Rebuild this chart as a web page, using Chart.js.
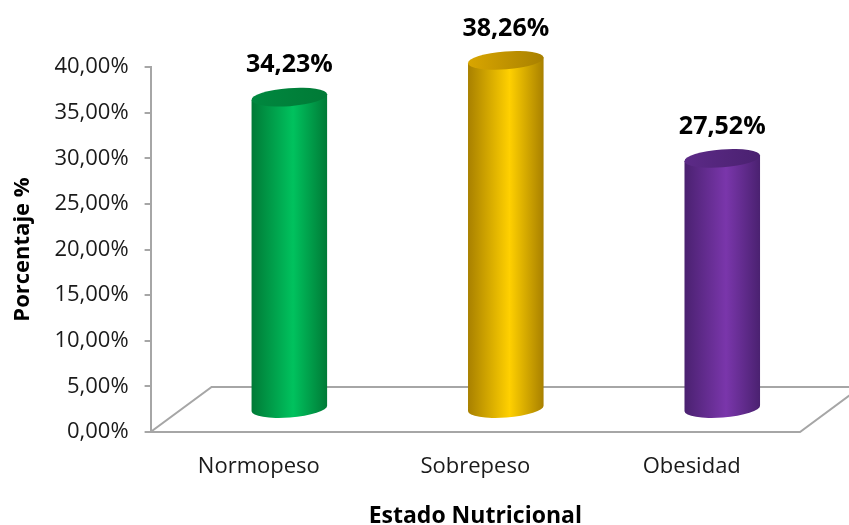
<!DOCTYPE html>
<html>
<head>
<meta charset="utf-8">
<script src="https://cdn.jsdelivr.net/npm/chart.js@4.4.1/dist/chart.umd.min.js"></script>
<style>
  body { margin: 0; background: #fff; }
  #wrap { width: 849px; height: 525px; }
</style>
</head>
<body>
<div id="wrap"><canvas id="nutri-graph"></canvas></div>
<script>
const categories = ["Normopeso", "Sobrepeso", "Obesidad"];
const percentages = [34.23, 38.26, 27.52];
const yTicks = [0, 5, 10, 15, 20, 25, 30, 35, 40];

// edge / highlight / lid colours for each cylinder
const shades = [
  { edge: "#007a36", light: "#00c25e", lid: "#00883f" },
  { edge: "#a88000", light: "#ffd000", lid: "#d9a600" },
  { edge: "#4a2170", light: "#7a36ab", lid: "#5c2a87" },
];

const FONT = "'Open Sans', sans-serif";
const AXIS_GRAY = "#a6a6a6";

// floor depth of the 3D box
const depthX = 61;
const depthY = -45;

const fmtPct = (v) => v.toFixed(2).replace(".", ",") + "%";

const cylinderPlugin = {
  id: "cylinders",
  beforeDatasetsDraw(chart) {
    const { ctx, chartArea } = chart;
    const { left, right, bottom } = chartArea;
    ctx.save();
    ctx.strokeStyle = AXIS_GRAY;
    ctx.lineWidth = 2;
    ctx.beginPath();
    ctx.moveTo(left, bottom);
    ctx.lineTo(right, bottom);
    ctx.lineTo(right + depthX, bottom + depthY);
    ctx.lineTo(left + depthX, bottom + depthY);
    ctx.closePath();
    ctx.stroke();
    ctx.restore();
  },
  afterDatasetsDraw(chart) {
    const { ctx } = chart;
    const meta = chart.getDatasetMeta(0);
    const rot = -0.075;
    const ry = 9;

    meta.data.forEach((bar, i) => {
      const c = shades[i];
      const cx = bar.x + depthX / 2;
      const topY = bar.y + depthY / 2;
      const baseY = bar.base + depthY / 2;
      const rx = bar.width / 2;
      const ex = rx * Math.cos(rot);
      const ey = rx * Math.sin(rot);

      const grad = ctx.createLinearGradient(cx - rx, 0, cx + rx, 0);
      grad.addColorStop(0, c.edge);
      grad.addColorStop(0.55, c.light);
      grad.addColorStop(1, c.edge);

      ctx.save();
      // body + rounded bottom
      ctx.beginPath();
      ctx.moveTo(cx - ex, topY - ey);
      ctx.lineTo(cx - ex, baseY - ey);
      ctx.ellipse(cx, baseY, rx, ry, rot, Math.PI, 0, true);
      ctx.lineTo(cx + ex, topY + ey);
      ctx.closePath();
      ctx.fillStyle = grad;
      ctx.fill();

      // lid
      const lidGrad = ctx.createLinearGradient(cx - rx, 0, cx + rx, 0);
      lidGrad.addColorStop(0, c.lid);
      lidGrad.addColorStop(1, c.edge);
      ctx.beginPath();
      ctx.ellipse(cx, topY, rx, ry, rot, 0, Math.PI * 2);
      ctx.fillStyle = lidGrad;
      ctx.fill();

      // value label
      ctx.fillStyle = "#000";
      ctx.font = "bold 25px " + FONT;
      ctx.textAlign = "center";
      ctx.textBaseline = "middle";
      ctx.fillText(fmtPct(percentages[i]), cx, topY - 32);
      ctx.restore();
    });
  },
};

const renderChart = () => {
  const canvas = document.querySelector("#nutri-graph");

  const data = {
    labels: categories,
    datasets: [
      {
        data: percentages,
        backgroundColor: "rgba(0,0,0,0)",
        borderWidth: 0,
        barPercentage: 0.35,
        categoryPercentage: 1,
      },
    ],
  };

  const options = {
    responsive: true,
    maintainAspectRatio: false,
    animation: false,
    events: [],
    layout: { padding: { top: 67, right: 49, left: 10, bottom: 0 } },
    plugins: {
      legend: { display: false },
      tooltip: { enabled: false },
    },
    scales: {
      x: {
        grid: { display: false, drawTicks: false },
        border: { display: false },
        ticks: { font: { family: FONT, size: 22 }, color: "#1a1a1a", padding: 22 },
        title: {
          display: true,
          text: "Estado Nutricional",
          font: { family: FONT, size: 23, weight: "bold" },
          color: "#000",
          padding: { top: 0, bottom: -5 },
        },
      },
      y: {
        min: 0,
        max: 40,
        afterBuildTicks: (scale) => {
          scale.ticks = yTicks.map((v) => ({ value: v }));
        },
        grid: {
          display: true,
          drawOnChartArea: false,
          drawTicks: true,
          tickLength: 6,
          color: AXIS_GRAY,
          lineWidth: 2,
        },
        border: { display: true, color: AXIS_GRAY, width: 2 },
        ticks: {
          font: { family: FONT, size: 22 },
          color: "#1a1a1a",
          padding: 16,
          callback: (v) => fmtPct(v),
        },
        title: {
          display: true,
          text: "Porcentaje %",
          font: { family: FONT, size: 22, weight: "bold" },
          color: "#000",
          padding: { top: 0, bottom: 2 },
        },
      },
    },
  };

  new Chart(canvas, {
    type: "bar",
    data: data,
    options: options,
    plugins: [cylinderPlugin],
  });
};

document.addEventListener("DOMContentLoaded", renderChart);
</script>
</body>
</html>
